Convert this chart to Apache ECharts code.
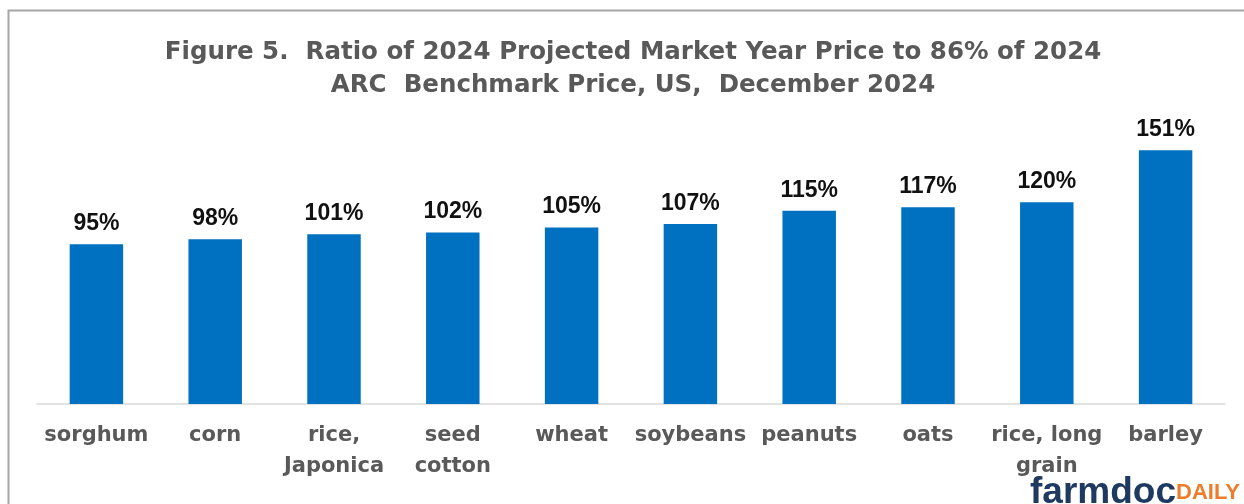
<!DOCTYPE html>
<html>
<head>
<meta charset="utf-8">
<script src="https://cdn.jsdelivr.net/npm/echarts@6/dist/echarts.min.js"></script>
<style>
html, body { margin: 0; padding: 0; background: #fff; }
#charts { width: 1244px; height: 504px; }
</style>
</head>
<body>
<div id="charts"></div>
<script>
const titleLines = ['Figure 5.  Ratio of 2024 Projected Market Year Price to 86% of 2024', 'ARC  Benchmark Price, US,  December 2024'];
const crops = ['sorghum', 'corn', 'rice,\nJaponica', 'seed\ncotton', 'wheat', 'soybeans', 'peanuts', 'oats', 'rice, long\ngrain', 'barley'];
const ratios = [95, 98, 101, 102, 105, 107, 115, 117, 120, 151];

const myChart = echarts.init(document.getElementById('charts'));

const option = {
	animation: false,
	backgroundColor: '#fff',
	grid: {
		left: 37,
		right: 19,
		top: 135,
		bottom: 100,
		outerBoundsMode: 'none'
	},
	xAxis: {
		type: 'category',
		data: crops,
		axisLine: { lineStyle: { color: '#d9d9d9', width: 1.5 } },
		axisTick: { show: false },
		axisLabel: {
			interval: 0,
			margin: 16,
			fontFamily: 'DejaVu Sans',
			fontSize: 21,
			fontWeight: 'bold',
			color: '#595959',
			lineHeight: 31
		}
	},
	yAxis: {
		type: 'value',
		min: 0,
		max: 160,
		show: false,
		splitLine: { show: false }
	},
	series: [
		{
			type: 'bar',
			data: ratios,
			barWidth: '45%',
			itemStyle: { color: '#0070C0' },
			label: {
				show: true,
				position: 'top',
				distance: 9,
				formatter: '{c}%',
				fontFamily: 'Liberation Sans',
				fontSize: 23,
				fontWeight: 'bold',
				color: '#111'
			}
		}
	],
	graphic: [
		{
			type: 'rect',
			shape: { x: 8.5, y: 10.5, width: 1400, height: 700 },
			style: { fill: null, stroke: '#a6a6a6', lineWidth: 2 },
			silent: true
		},
		{
			// title drawn as graphic so both lines center on the same point
			type: 'text',
			x: 633,
			y: 36,
			style: {
				text: titleLines.join('\n'),
				align: 'center',
				verticalAlign: 'top',
				fontFamily: 'DejaVu Sans',
				fontSize: 24.5,
				fontWeight: 'bold',
				fill: '#595959',
				lineHeight: 33
			}
		},
		{
			type: 'text',
			right: 4,
			bottom: -7,
			style: {
				text: '{a|farmdoc}{b|DAILY}',
				rich: {
					a: { fontFamily: 'Liberation Sans', fontSize: 37, fontWeight: 'bold', fill: '#1f3a60' },
					b: { fontFamily: 'Liberation Sans', fontSize: 22, fontWeight: 'bold', fill: '#ee7d2b' }
				}
			}
		}
	]
};

myChart.setOption(option);
</script>
</body>
</html>
